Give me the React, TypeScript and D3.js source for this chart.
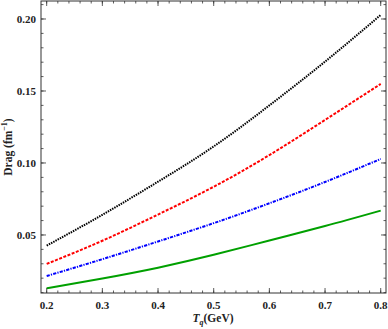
import React from "react";
import * as d3 from "d3";

// Temperatures (GeV) and drag values (fm^-1)
const temps = [0.2, 0.3, 0.4, 0.5, 0.6, 0.7, 0.8];
const dragBlack = [0.0426, 0.064, 0.087, 0.1115, 0.140, 0.1704, 0.2028];
const dragRed = [0.0299, 0.046, 0.0642, 0.0835, 0.1055, 0.1299, 0.1549];
const dragBlue = [0.0215, 0.0332, 0.0455, 0.0582, 0.072, 0.0868, 0.1028];
const dragGreen = [0.013, 0.0198, 0.0273, 0.0362, 0.0462, 0.0562, 0.0669];

const xTicks = [0.2, 0.3, 0.4, 0.5, 0.6, 0.7, 0.8];
const yTicks = [0.05, 0.1, 0.15, 0.2];

const series = [
  { name: "black", values: dragBlack, color: "#000000", dash: "1.5,1" },
  { name: "red", values: dragRed, color: "#ff0000", dash: "3,1.5" },
  { name: "blue", values: dragBlue, color: "#0000ff", dash: "3.2,1.2,1.2,1.2" },
  { name: "green", values: dragGreen, color: "#00a000", dash: "none" },
];

const W = 388;
const H = 329;
const left = 41;
const right = 386;
const top = 1;
const bottom = 293;
const font = "'Liberation Serif', 'Times New Roman', serif";

export default function App() {
  const x = d3.scaleLinear().domain([0.1898, 0.8095]).range([left, right]);
  const y = d3.scaleLinear().domain([0.0097, 0.2125]).range([bottom, top]);

  const line = d3
    .line<number>()
    .x((_, i) => x(temps[i]))
    .y((d) => y(d))
    .curve(d3.curveNatural);

  const xMinor = d3.range(0.2, 0.8001, 0.02).filter((v) => x(v) > left && x(v) < right);
  const yMinor = d3.range(0.01, 0.2101, 0.01).filter((v) => y(v) > top && y(v) < bottom);

  return (
    <svg
      width={W}
      height={H}
      style={{ position: "absolute", left: 0, top: 0, background: "#fff" }}
    >
      {/* data curves */}
      <g fill="none" strokeWidth={2}>
        {series.map((s) => (
          <path
            key={s.name}
            d={line(s.values) || ""}
            stroke={s.color}
            strokeDasharray={s.dash}
          />
        ))}
      </g>

      {/* frame */}
      <rect
        x={left}
        y={top}
        width={right - left}
        height={bottom - top}
        fill="none"
        stroke="#333"
        strokeWidth={1}
      />

      {/* ticks, inward on all four sides */}
      <g stroke="#333" strokeWidth={0.8}>
        {xMinor.map((v) => (
          <g key={"xm" + v}>
            <line x1={x(v)} x2={x(v)} y1={bottom} y2={bottom - 2.5} />
            <line x1={x(v)} x2={x(v)} y1={top} y2={top + 2.5} />
          </g>
        ))}
        {xTicks.map((v) => (
          <g key={"xM" + v}>
            <line x1={x(v)} x2={x(v)} y1={bottom} y2={bottom - 5} />
            <line x1={x(v)} x2={x(v)} y1={top} y2={top + 5} />
          </g>
        ))}
        {yMinor.map((v) => (
          <g key={"ym" + v}>
            <line x1={left} x2={left + 2.5} y1={y(v)} y2={y(v)} />
            <line x1={right} x2={right - 2.5} y1={y(v)} y2={y(v)} />
          </g>
        ))}
        {yTicks.map((v) => (
          <g key={"yM" + v}>
            <line x1={left} x2={left + 5} y1={y(v)} y2={y(v)} />
            <line x1={right} x2={right - 5} y1={y(v)} y2={y(v)} />
          </g>
        ))}
      </g>

      {/* tick labels */}
      <g fontFamily={font} fontWeight="bold" fontSize={11} fill="#222">
        {xTicks.map((v) => (
          <text key={"xl" + v} x={x(v)} y={bottom + 16} textAnchor="middle">
            {d3.format(".1f")(v)}
          </text>
        ))}
        {yTicks.map((v) => (
          <text
            key={"yl" + v}
            x={left - 5}
            y={y(v)}
            textAnchor="end"
            dominantBaseline="central"
          >
            {d3.format(".2f")(v)}
          </text>
        ))}
      </g>

      {/* axis labels */}
      <text
        x={213}
        y={322}
        textAnchor="middle"
        fontFamily={font}
        fontWeight="bold"
        fontSize={11.5}
        fill="#222"
      >
        <tspan fontStyle="italic">T</tspan>
        <tspan fontStyle="italic" fontSize={8} dy={2.5}>q</tspan>
        <tspan dy={-2.5}>(GeV)</tspan>
      </text>
      <text
        transform={`translate(12,147) rotate(-90)`}
        textAnchor="middle"
        fontFamily={font}
        fontWeight="bold"
        fontSize={11.5}
        fill="#222"
      >
        Drag (fm<tspan fontSize={8} dy={-5}>−1</tspan>
        <tspan dy={5}>)</tspan>
      </text>
    </svg>
  );
}
